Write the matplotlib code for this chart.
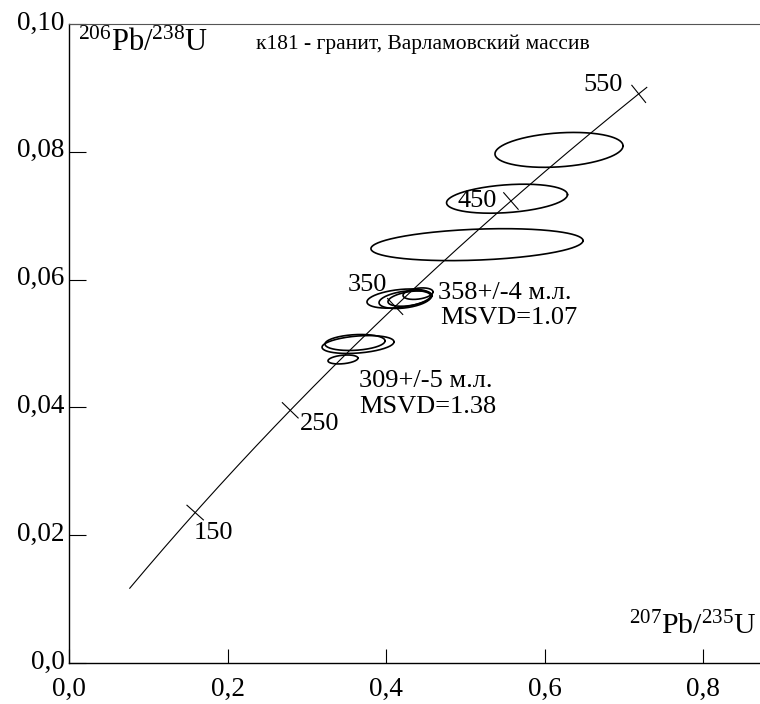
import numpy as np
import matplotlib
matplotlib.use("Agg")
import matplotlib.pyplot as plt
import matplotlib.transforms as mtransforms

plt.rcParams['font.family'] = ['Liberation Serif', 'DejaVu Serif']
plt.rcParams['mathtext.fontset'] = 'custom'
plt.rcParams['mathtext.rm'] = 'Liberation Serif'
plt.rcParams['mathtext.it'] = 'Liberation Serif:italic'

# Decay constants (1/yr)
L238 = 1.55125e-10
L235 = 9.8485e-10

# Concordia range and age marks (Ma)
curve_age_start = 75
curve_age_end = 556
age_marks = [150, 250, 350, 450, 550]
age_label_dx = [-0.002, 0.012, -0.060, -0.068, -0.07]   # label offsets in x
age_label_dy = [-0.0032, -0.0022, 0.0033, 0.0000, 0.0014]

# Error ellipses: centre x (207Pb/235U), centre y (206Pb/238U), half-widths, correlation
ell_cx = [0.6183, 0.5527, 0.5148, 0.4164, 0.4240, 0.4303, 0.4404, 0.3647, 0.3609, 0.3457]
ell_cy = [0.0803, 0.07266, 0.06547, 0.05703, 0.05688, 0.05703, 0.0578, 0.04984, 0.05016, 0.0475]
ell_sx = [0.0808, 0.0763, 0.1338, 0.0404, 0.0328, 0.0278, 0.0189, 0.0454, 0.0379, 0.0189]
ell_sy = [0.00273, 0.00227, 0.0025, 0.0015, 0.0014, 0.0012, 0.0009, 0.0014, 0.00125, 0.0007]
ell_rho = [0.23, 0.28, 0.25, 0.35, 0.35, 0.4, 0.3, 0.3, 0.2, 0.3]

xticks = [0.0, 0.2, 0.4, 0.6, 0.8]
xtick_labels = ['0,0', '0,2', '0,4', '0,6', '0,8']
yticks = [0.0, 0.02, 0.04, 0.06, 0.08, 0.10]
ytick_labels = ['0,0', '0,02', '0,04', '0,06', '0,08', '0,10']

title = 'к181 - гранит, Варламовский массив'
ann1 = ['358+/-4 м.л.', 'MSVD=1.07']
ann2 = ['309+/-5 м.л.', 'MSVD=1.38']

fig = plt.figure(figsize=(7.6, 7.04), dpi=100)
ax = fig.add_axes([69/760, 41/704, 691/760, 639/704])
ax.set_xlim(0, 691/792.5)
ax.set_ylim(0, 0.10)

def conc(t_ma):
    t = np.asarray(t_ma) * 1e6
    return np.exp(L235 * t) - 1, np.exp(L238 * t) - 1

ages = np.linspace(curve_age_start, curve_age_end, 400)
cx, cy = conc(ages)
ax.plot(cx, cy, color='black', lw=0.8)

# perpendicular tick marks at ages (computed in display space)
trans = ax.transData
for a, dx, dy in zip(age_marks, age_label_dx, age_label_dy):
    x0, y0 = conc(a)
    x1, y1 = conc(a + 1)
    p0 = trans.transform((x0, y0))
    p1 = trans.transform((x1, y1))
    d = (p1 - p0) / np.hypot(*(p1 - p0))
    n = np.array([d[1], -d[0]])
    L = 11
    q = trans.inverted().transform([p0 - n * L, p0 + n * L])
    ax.plot(q[:, 0], q[:, 1], color='black', lw=0.8)
    ax.text(x0 + dx, y0 + dy, str(a), fontsize=19, ha='left', va='center')

th = np.linspace(0, 2 * np.pi, 300)
for x, y, sx, sy, r in zip(ell_cx, ell_cy, ell_sx, ell_sy, ell_rho):
    ex = x + sx * np.cos(th)
    ey = y + sy * (r * np.cos(th) + np.sqrt(1 - r * r) * np.sin(th))
    ax.plot(ex, ey, color='black', lw=1.2)

ax.set_xticks(xticks)
ax.set_xticklabels(xtick_labels)
ax.set_yticks(yticks)
ax.set_yticklabels(ytick_labels)
ax.tick_params(axis='both', direction='in', labelsize=19.5, width=0.8)
ax.tick_params(axis='x', length=10, pad=10)
ax.tick_params(axis='y', length=12, pad=3)
offset = mtransforms.ScaledTranslation(0, 4/100, fig.dpi_scale_trans)
for lab in ax.get_yticklabels():
    lab.set_transform(lab.get_transform() + offset)

ax.spines['right'].set_visible(False)
ax.spines['top'].set_color('#555555')
for s in ['left', 'bottom']:
    ax.spines[s].set_linewidth(1.0)

ax.text(78/760, 1 - 43/704, r'$^{206}\mathrm{Pb}/^{238}\mathrm{U}$', transform=fig.transFigure,
        fontsize=22, ha='left', va='center')
ax.text(756/760, 1 - 626/704, r'$^{207}\mathrm{Pb}/^{235}\mathrm{U}$', transform=fig.transFigure,
        fontsize=21.5, ha='right', va='center')
ax.text(256/760, 1 - 44/704, title, transform=fig.transFigure, fontsize=15.5, ha='left', va='center')

ax.text(438/760, 1 - 293/704, ann1[0], transform=fig.transFigure, fontsize=19, ha='left', va='center')
ax.text(440/760, 1 - 318/704, ann1[1], transform=fig.transFigure, fontsize=19, ha='left', va='center')
ax.text(359/760, 1 - 381/704, ann2[0], transform=fig.transFigure, fontsize=19, ha='left', va='center')
ax.text(359/760, 1 - 407/704, ann2[1], transform=fig.transFigure, fontsize=19, ha='left', va='center')

fig.savefig('out.png', dpi=100)
